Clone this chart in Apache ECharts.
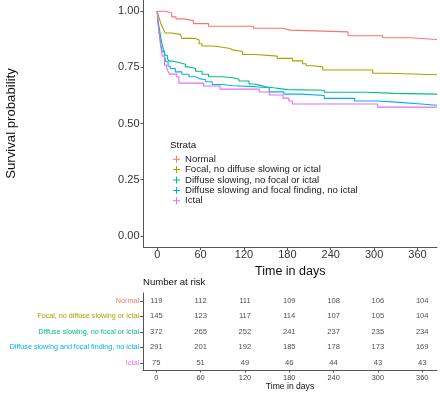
<!DOCTYPE html>
<html>
<head>
<meta charset="utf-8">
<script src="https://cdn.jsdelivr.net/npm/echarts@6/dist/echarts.min.js"></script>
<style>
html,body{margin:0;padding:0;background:#fff;}
#chart{width:440px;height:393px;}
</style>
</head>
<body>
<div id="chart"></div>
<script>
// ---- data ----
const strata = ['Normal', 'Focal, no diffuse slowing or ictal', 'Diffuse slowing, no focal or ictal', 'Diffuse slowing and focal finding, no ictal', 'Ictal'];
const colors = ['#F8766D', '#A3A500', '#00BF7D', '#00B0F6', '#E76BF3'];
const timeTicks = [0, 60, 120, 180, 240, 300, 360];
const survTicks = [0, 0.25, 0.5, 0.75, 1];

const normalT = [0, 11, 20, 26, 37, 50, 71, 133, 173, 184, 264, 312, 351, 387];
const normalS = [1, 0.992, 0.975, 0.966, 0.958, 0.945, 0.933, 0.924, 0.916, 0.908, 0.891, 0.882, 0.874, 0.874];

const focalT = [0, 1, 3, 5, 7, 9, 11, 20, 32, 34, 53, 58, 62, 78, 88, 101, 104, 118, 136, 166, 187, 201, 206, 215, 229, 298, 321, 387];
const focalS = [1, 0.986, 0.966, 0.945, 0.931, 0.917, 0.903, 0.897, 0.890, 0.879, 0.872, 0.855, 0.845, 0.841, 0.834, 0.828, 0.821, 0.807, 0.800, 0.790, 0.779, 0.766, 0.757, 0.752, 0.738, 0.724, 0.717, 0.717];

const diffuseT = [0, 1, 3, 5, 7, 9, 11, 14, 16, 20, 30, 39, 44, 53, 62, 71, 90, 104, 113, 127, 134, 141, 150, 161, 180, 231, 291, 328, 387];
const diffuseS = [1, 0.96, 0.92, 0.88, 0.85, 0.825, 0.804, 0.79, 0.778, 0.772, 0.764, 0.752, 0.745, 0.733, 0.719, 0.708, 0.704, 0.698, 0.689, 0.676, 0.671, 0.664, 0.659, 0.651, 0.648, 0.639, 0.634, 0.631, 0.631];

const focalDiffT = [0, 1, 3, 5, 7, 10, 12, 15, 18, 25, 34, 44, 53, 58, 67, 76, 90, 104, 136, 155, 175, 200, 231, 273, 305, 335, 365, 387];
const focalDiffS = [1, 0.95, 0.90, 0.85, 0.82, 0.80, 0.775, 0.755, 0.745, 0.73, 0.719, 0.708, 0.70, 0.695, 0.686, 0.674, 0.668, 0.664, 0.659, 0.641, 0.631, 0.625, 0.612, 0.60, 0.594, 0.587, 0.581, 0.581];

const ictalT = [0, 1, 3, 5, 7, 10, 13, 15, 17, 27, 30, 64, 87, 141, 155, 174, 182, 187, 305, 387];
const ictalS = [1, 0.947, 0.893, 0.84, 0.80, 0.76, 0.747, 0.733, 0.72, 0.707, 0.68, 0.667, 0.653, 0.64, 0.627, 0.613, 0.60, 0.587, 0.573, 0.573];

const riskNormal = [119, 112, 111, 109, 108, 106, 104];
const riskFocal = [145, 123, 117, 114, 107, 105, 104];
const riskDiffuse = [372, 265, 252, 241, 237, 235, 234];
const riskFocalDiff = [291, 201, 192, 185, 178, 173, 169];
const riskIctal = [75, 51, 49, 46, 44, 43, 43];

// ---- build ----
const curveT = [normalT, focalT, diffuseT, focalDiffT, ictalT];
const curveS = [normalS, focalS, diffuseS, focalDiffS, ictalS];
const risks = [riskNormal, riskFocal, riskDiffuse, riskFocalDiff, riskIctal];
const FONT = '"Liberation Sans", Arial, sans-serif';

const lineSeries = strata.map((name, i) => ({
  name: name,
  type: 'line',
  step: 'end',
  xAxisIndex: 0, yAxisIndex: 0,
  showSymbol: false,
  symbol: 'none',
  color: colors[i],
  lineStyle: { width: 1.1, color: colors[i] },
  data: curveT[i].map((t, k) => [t, curveS[i][k]]),
  silent: true,
  z: 2 + i
}));

const tableData = [];
strata.forEach((name, i) => {
  timeTicks.forEach((t, j) => tableData.push([t, name, risks[i][j]]));
});

const tableSeries = {
  type: 'scatter',
  xAxisIndex: 1, yAxisIndex: 1,
  symbolSize: 0.01,
  itemStyle: { color: 'transparent' },
  data: tableData,
  silent: true,
  label: {
    show: true, position: 'inside',
    formatter: p => String(p.value[2]),
    fontSize: 7.6, fontFamily: FONT, color: '#222'
  }
};

const chart = echarts.init(document.getElementById('chart'), null, { renderer: 'canvas' });
const axisLineStyle = { color: '#555', width: 1 };

chart.setOption({
  animation: false,
  textStyle: { fontFamily: FONT },
  grid: [
    { left: 143.5, top: 0, width: 293.5, height: 247, containLabel: false, outerBoundsMode: 'none' },
    { left: 143, top: 293, width: 294, height: 77.5, containLabel: false, outerBoundsMode: 'none' }
  ],
  xAxis: [
    {
      gridIndex: 0, type: 'value', min: -19, max: 387,
      axisLine: { show: true, onZero: false, lineStyle: axisLineStyle },
      axisTick: { show: true, length: 3, lineStyle: axisLineStyle, customValues: timeTicks },
      axisLabel: { customValues: timeTicks, fontSize: 11, color: '#333', margin: 2, fontFamily: FONT },
      splitLine: { show: false },
      name: 'Time in days', nameLocation: 'middle', nameGap: 6,
      nameTextStyle: { fontSize: 12.5, color: '#111', fontFamily: FONT }
    },
    {
      gridIndex: 1, type: 'value', min: -18, max: 380,
      axisLine: { show: true, onZero: false, lineStyle: axisLineStyle },
      axisTick: { show: true, length: 2, lineStyle: axisLineStyle, customValues: timeTicks },
      axisLabel: { customValues: timeTicks, fontSize: 7.4, color: '#444', margin: 4, fontFamily: FONT },
      splitLine: { show: false },
      name: 'Time in days', nameLocation: 'middle', nameGap: 9,
      nameTextStyle: { fontSize: 8.6, color: '#111', fontFamily: FONT }
    }
  ],
  yAxis: [
    {
      gridIndex: 0, type: 'value', min: -0.05, max: 1.05,
      axisLine: { show: true, onZero: false, lineStyle: axisLineStyle },
      axisTick: { show: true, length: 3, lineStyle: axisLineStyle, customValues: survTicks },
      axisLabel: { customValues: survTicks, fontSize: 11, color: '#333', margin: 4, fontFamily: FONT,
        formatter: v => v.toFixed(2) },
      splitLine: { show: false },
      name: 'Survival probability', nameLocation: 'middle', nameGap: 126, nameRotate: 90,
      nameTextStyle: { fontSize: 13.2, color: '#111', fontFamily: FONT }
    },
    {
      gridIndex: 1, type: 'category', data: strata, inverse: true,
      axisLine: { show: true, onZero: false, lineStyle: axisLineStyle },
      axisTick: { show: true, length: 3, alignWithLabel: true, lineStyle: axisLineStyle },
      axisLabel: { fontSize: 7.2, margin: 4, fontFamily: FONT,
        color: (val, idx) => colors[strata.indexOf(val)] },
      splitLine: { show: false },
      name: 'Strata', nameLocation: 'middle', nameGap: 127, nameRotate: 90,
      nameTextStyle: { fontSize: 8.6, color: '#000', fontFamily: FONT }
    }
  ],
  legend: {
    orient: 'vertical',
    left: 173, top: 154,
    data: strata,
    icon: 'path://M0,3h7v1h-7z M3,0h1v7h-1z',
    itemWidth: 7, itemHeight: 7, itemGap: 0,
    textStyle: { fontSize: 9.6, color: '#222', fontFamily: FONT, lineHeight: 10.4, padding: [0, 0, 0, 0] },
    padding: 0,
    selectedMode: false
  },
  graphic: [
    { type: 'text', left: 170, top: 140,
      style: { text: 'Strata', fontSize: 9.8, fill: '#111', fontFamily: FONT } },
    { type: 'text', left: 143, top: 277,
      style: { text: 'Number at risk', fontSize: 9.6, fill: '#111', fontFamily: FONT } }
  ],
  series: lineSeries.concat([tableSeries])
});
</script>
</body>
</html>
